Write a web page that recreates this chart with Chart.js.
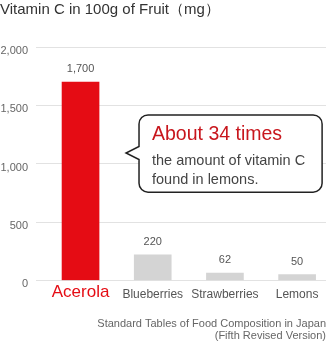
<!DOCTYPE html>
<html>
<head>
<meta charset="utf-8">
<script src="https://cdn.jsdelivr.net/npm/chart.js@4.4.1/dist/chart.umd.min.js"></script>
<style>
  body { margin: 0; background: #fff; }
  #wrap { width: 327px; height: 344px; }
</style>
</head>
<body>
<div id="wrap"><canvas id="myChart" width="327" height="344"></canvas></div>
<script>
'use strict';

let fruits = ['Acerola', 'Blueberries', 'Strawberries', 'Lemons'];
let vitaminC = [1700, 220, 62, 50];
let yTicks = [0, 500, 1000, 1500, 2000];
let calloutLines = ['About 34 times', 'the amount of vitamin C', 'found in lemons.'];
let sourceLines = ['Standard Tables of Food Composition in Japan', '(Fifth Revised Version)'];

let fontFamily = "Helvetica, Arial, 'Liberation Sans', sans-serif";
let red = '#e50c14';

// value labels above the bars
let barLabels = {
  id: 'barLabels',
  afterDatasetsDraw(chart){
    let ctx = chart.ctx;
    let meta = chart.getDatasetMeta(0);
    ctx.save();
    ctx.font = '11px ' + fontFamily;
    ctx.fillStyle = '#555';
    ctx.textAlign = 'center';
    ctx.textBaseline = 'middle';
    meta.data.forEach(function(bar, i){
      ctx.fillText(vitaminC[i].toLocaleString('en-US'), bar.x, bar.y - 13);
    });
    ctx.restore();
  }
};

// speech bubble, placed in data space
let callout = {
  id: 'callout',
  afterDraw(chart){
    let x = chart.scales.x;
    let y = chart.scales.y;
    let left = x.getPixelForValue(0.81);
    let right = x.getPixelForValue(3.346);
    let top = y.getPixelForValue(1418);
    let bottom = y.getPixelForValue(756);
    let tipX = x.getPixelForValue(0.63);
    let tipY = y.getPixelForValue(1092);
    let r = 9;
    let ctx = chart.ctx;
    ctx.save();
    ctx.beginPath();
    ctx.moveTo(left + r, top);
    ctx.lineTo(right - r, top);
    ctx.arcTo(right, top, right, top + r, r);
    ctx.lineTo(right, bottom - r);
    ctx.arcTo(right, bottom, right - r, bottom, r);
    ctx.lineTo(left + r, bottom);
    ctx.arcTo(left, bottom, left, bottom - r, r);
    ctx.lineTo(left, tipY + 6.5);
    ctx.lineTo(tipX, tipY);
    ctx.lineTo(left, tipY - 6.5);
    ctx.lineTo(left, top + r);
    ctx.arcTo(left, top, left + r, top, r);
    ctx.closePath();
    ctx.fillStyle = '#fff';
    ctx.fill();
    ctx.lineWidth = 1.5;
    ctx.strokeStyle = '#222';
    ctx.stroke();

    ctx.textAlign = 'left';
    ctx.textBaseline = 'middle';
    ctx.fillStyle = '#c8161d';
    ctx.font = '19.5px ' + fontFamily;
    ctx.fillText(calloutLines[0], left + 13, top + 20);
    ctx.fillStyle = '#444';
    ctx.font = '14.5px ' + fontFamily;
    ctx.fillText(calloutLines[1], left + 13, top + 46);
    ctx.fillText(calloutLines[2], left + 13, top + 65);
    ctx.restore();
  }
};

let points = vitaminC.map(function(v, i){ return {x: i, y: v}; });

let ctx = document.getElementById('myChart').getContext('2d');
new Chart(ctx, {
  type: 'bar',
  data: {
    datasets: [{
      label: 'Vitamin C (mg)',
      data: points,
      backgroundColor: vitaminC.map(function(v, i){ return i === 0 ? red : '#d4d4d4'; }),
      borderWidth: 0,
      barThickness: 37
    }]
  },
  options: {
    responsive: false,
    animation: false,
    layout: { padding: { left: 0, right: 1, top: 0, bottom: 0 } },
    plugins: {
      legend: { display: false },
      tooltip: { enabled: false },
      title: {
        display: true,
        text: 'Vitamin C in 100g of Fruit（mg）',
        align: 'start',
        color: '#333',
        font: { family: fontFamily, size: 15, weight: 'normal', lineHeight: 1.2 },
        padding: { top: 1, bottom: 28 }
      },
      subtitle: {
        display: true,
        position: 'bottom',
        align: 'end',
        text: sourceLines,
        color: '#666',
        font: { family: fontFamily, size: 11, lineHeight: 1.09 },
        padding: { top: 10, bottom: 2 }
      }
    },
    scales: {
      x: {
        type: 'linear',
        offset: false,
        min: -0.617,
        max: 3.40,
        grid: { display: false, drawTicks: false },
        border: { display: false },
        ticks: {
          stepSize: 1,
          includeBounds: false,
          autoSkip: false,
          maxRotation: 0,
          padding: 3.6,
          callback: function(v){ return fruits[v] !== undefined ? fruits[v] : ''; },
          color: function(c){ return c.tick && c.tick.value === 0 ? red : '#555'; },
          font: function(c){
            if (c.tick && c.tick.value === 0) {
              return { family: fontFamily, size: 17, lineHeight: 1 };
            }
            return { family: fontFamily, size: 12, lineHeight: 1.7 };
          }
        }
      },
      y: {
        min: yTicks[0],
        max: yTicks[yTicks.length - 1],
        afterFit: function(s){
          s.width = 36;
          s.paddingTop = 0;
          s.paddingBottom = 0;
        },
        afterBuildTicks: function(s){ s.ticks = yTicks.map(function(v){ return {value: v}; }); },
        grid: { color: '#e2e2e2', drawTicks: false, lineWidth: 1 },
        border: { display: false },
        ticks: {
          padding: 8,
          labelOffset: 4,
          color: '#666',
          font: { family: fontFamily, size: 11 },
          callback: function(v){ return v.toLocaleString('en-US'); }
        }
      }
    }
  },
  plugins: [barLabels, callout]
});
</script>
</body>
</html>
